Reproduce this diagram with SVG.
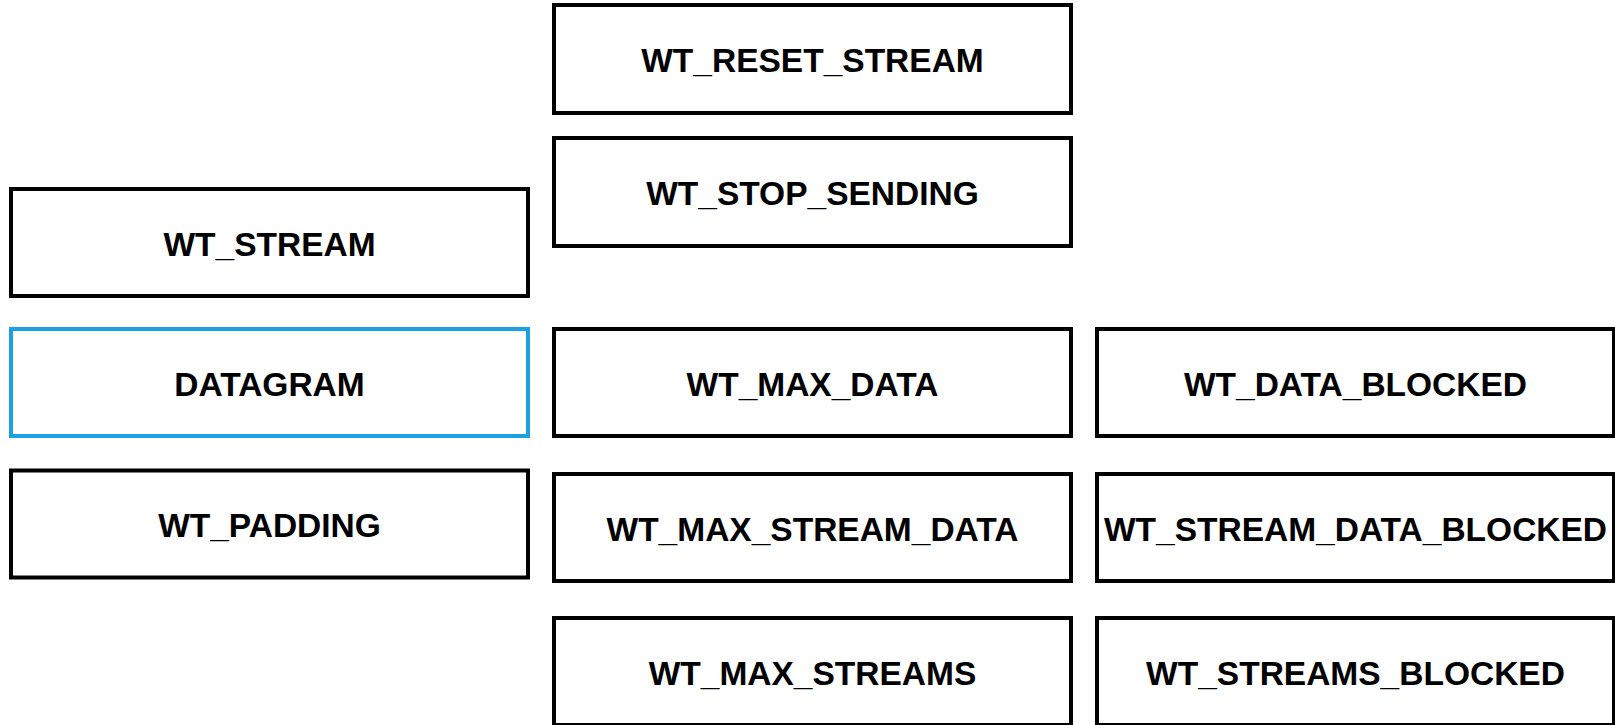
<svg xmlns="http://www.w3.org/2000/svg" width="1615" height="725" viewBox="0 0 1615 725">
<style>
.box{fill:#fff;stroke:#000;stroke-width:4}
.sel{stroke:#1ba1e2}
.lbl{font-family:"Liberation Sans",Arial,sans-serif;font-weight:bold;font-size:33.5px;fill:#000;text-anchor:middle}
</style>
<rect width="1615" height="725" fill="#fff"/>
<g id="wt_reset_stream"><rect class="box" x="554" y="5" width="517" height="108"/><text class="lbl" x="812.5" y="72">WT_RESET_STREAM</text></g>
<g id="wt_stop_sending"><rect class="box" x="554" y="138" width="517" height="108"/><text class="lbl" x="812.5" y="205">WT_STOP_SENDING</text></g>
<g id="wt_stream"><rect class="box" x="11" y="189" width="517" height="107"/><text class="lbl" x="269.5" y="255.5">WT_STREAM</text></g>
<g id="datagram"><rect class="box sel" x="11" y="329" width="517" height="107"/><text class="lbl" x="269.5" y="395.5">DATAGRAM</text></g>
<g id="wt_padding"><rect class="box" x="11" y="470.5" width="517" height="107"/><text class="lbl" x="269.5" y="537">WT_PADDING</text></g>
<g id="wt_max_data"><rect class="box" x="554" y="329" width="517" height="107"/><text class="lbl" x="812.5" y="395.5">WT_MAX_DATA</text></g>
<g id="wt_max_stream_data"><rect class="box" x="554" y="474" width="517" height="107"/><text class="lbl" x="812.5" y="540.5">WT_MAX_STREAM_DATA</text></g>
<g id="wt_max_streams"><rect class="box" x="554" y="618" width="517" height="107"/><text class="lbl" x="812.5" y="684.5">WT_MAX_STREAMS</text></g>
<g id="wt_data_blocked"><rect class="box" x="1097" y="329" width="517" height="107"/><text class="lbl" x="1355.5" y="395.5">WT_DATA_BLOCKED</text></g>
<g id="wt_stream_data_blocked"><rect class="box" x="1097" y="474" width="517" height="107"/><text class="lbl" x="1355.5" y="540.5">WT_STREAM_DATA_BLOCKED</text></g>
<g id="wt_streams_blocked"><rect class="box" x="1097" y="618" width="517" height="107"/><text class="lbl" x="1355.5" y="684.5">WT_STREAMS_BLOCKED</text></g>
<g id="connectors"></g>
</svg>
